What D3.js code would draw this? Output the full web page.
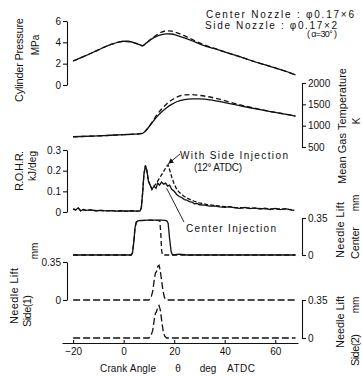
<!DOCTYPE html>
<meta charset="utf-8">
<head>
<script src="https://d3js.org/d3.v7.min.js"></script>
<style>
  body { margin: 0; background: #fff; }
  svg text { font-family: "Liberation Sans", Arial, sans-serif; fill: #111; }
  .axis path, .axis line { stroke: #111; stroke-width: 1.1; }
  .axis text { font-size: 10px; }
  .curve { fill: none; stroke: #111; stroke-width: 1.3; }
</style>
</head>
<body>
<div id="chart"></div>
<script>
// crank angle ticks
var tickAngles = [-20, 0, 20, 40, 60];

// cylinder pressure, MPa
var presAngle  = [-20,-15,-10,-5,-2,0,2,4,6,7.5,9,11,13,15,17,19,21,24,27,30,33,36,40,45,50,55,60,65,68];
var presCenter = [2.25,2.75,3.3,3.8,4.02,4.1,4.08,3.98,3.8,3.68,3.95,4.3,4.55,4.72,4.8,4.78,4.65,4.42,4.15,3.85,3.6,3.4,3.1,2.72,2.32,1.95,1.6,1.22,0.95];
var presSide   = [2.25,2.75,3.3,3.8,4.02,4.1,4.08,3.98,3.8,3.68,3.95,4.33,4.68,4.95,5.08,5.05,4.9,4.62,4.28,3.95,3.66,3.43,3.1,2.72,2.32,1.95,1.6,1.22,0.95];

// mean gas temperature, K
var tempAngle  = [-20,-10,0,4,7.5,9,11,13,15,17,19,21,24,27,30,35,40,45,50,55,60,65,68];
var tempCenter = [740,760,790,800,820,900,1050,1200,1320,1420,1500,1560,1610,1630,1630,1600,1540,1480,1420,1365,1310,1260,1225];
var tempSide   = [740,760,790,800,820,900,1060,1240,1390,1510,1600,1670,1720,1730,1710,1660,1585,1505,1435,1370,1310,1260,1225];

// rate of heat release, kJ/deg
var rohrAngle  = [-20,-19,-18,-17,-16,-15,-13,-11,-9,-7,-5,-3,-1,1,3,5,6.5,7,7.5,8,8.6,9.2,9.8,10.5,11.2,12,12.8,13.5,14.2,15,15.8,16.6,17.4,18.2,19,20,21,22,23,24,25,26,27,28,29,30,32,34,36,38,40,42,44,46,48,50,52,54,56,58,60,62,64,66,67.5];
var rohrCenter = [0.015,0.01,0.02,0.005,0.012,0.008,0.01,0.006,0.008,0.005,0.007,0.004,0.006,0.004,0.006,0.004,0.005,0.02,0.09,0.18,0.225,0.2,0.15,0.13,0.11,0.125,0.115,0.14,0.13,0.145,0.135,0.14,0.125,0.13,0.11,0.1,0.085,0.075,0.07,0.06,0.058,0.05,0.048,0.04,0.042,0.035,0.033,0.028,0.03,0.025,0.022,0.026,0.02,0.018,0.022,0.016,0.02,0.014,0.018,0.012,0.017,0.012,0.016,0.01,0.008];
var rohrSideAngle = [-20,-19,-18,-17,-16,-15,-13,-11,-9,-7,-5,-3,-1,1,3,5,6.5,7,7.5,8,8.6,9.2,9.8,10.5,11.2,12,13,14,15,16,17,17.6,18.3,19,20,21,22,23,24,26,28,30,33,36,40,44,48,52,56,60,64,67.5];
var rohrSide      = [0.015,0.01,0.02,0.005,0.012,0.008,0.01,0.006,0.008,0.005,0.007,0.004,0.006,0.004,0.006,0.004,0.005,0.02,0.09,0.18,0.225,0.2,0.15,0.13,0.11,0.125,0.14,0.16,0.18,0.2,0.22,0.228,0.2,0.17,0.135,0.11,0.095,0.085,0.075,0.062,0.052,0.044,0.036,0.032,0.026,0.022,0.02,0.018,0.016,0.015,0.014,0.01];

// needle lift, mm
var needleCAngle  = [-20,3,3.5,4,4.5,5,5.8,10,15,17,17.6,18.2,18.8,19.4,22,25,68];
var needleCenter  = [0,0,0.02,0.12,0.26,0.31,0.325,0.33,0.33,0.325,0.3,0.15,0.03,0,0.008,0,0];
var needleCSAngle = [-20,3,3.5,4,4.5,5,5.8,10,14.3,14.7,15,15.3,68];
var needleCSide   = [0,0,0.02,0.12,0.26,0.31,0.325,0.33,0.325,0.2,0.05,0,0];
var sideAngle = [-20,10,10.8,11.5,12.2,12.6,13,13.5,14,14.5,15,15.6,16.2,17,68];
var side1Lift = [0,0,0.02,0.08,0.2,0.25,0.26,0.31,0.32,0.27,0.18,0.08,0.02,0,0];
var side2Lift = [0,0,0.02,0.07,0.18,0.23,0.24,0.29,0.3,0.26,0.17,0.07,0.02,0,0];

var svg = d3.select("#chart").append("svg").attr("width", 362).attr("height", 377);

var x = d3.scaleLinear().domain([-24.4, 69]).range([62, 298]);
var yP = d3.scaleLinear().domain([0, 6]).range([85, 21]);
var yT = d3.scaleLinear().domain([500, 2000]).range([147, 83]);
var yR = d3.scaleLinear().domain([0, 0.3]).range([212, 150]);
var yC = d3.scaleLinear().domain([0, 0.35]).range([255, 218]);
var yS1 = d3.scaleLinear().domain([0, 0.35]).range([300, 262]);
var yS2 = d3.scaleLinear().domain([0, 0.35]).range([338, 300]);

function pairs(a, v) { return a.map(function (d, i) { return [d, v[i]]; }); }

function draw(ang, vals, y, dash, curve) {
    var line = d3.line().x(function (d) { return x(d[0]); }).y(function (d) { return y(d[1]); })
        .curve(curve || d3.curveLinear);
    var p = svg.append("path").attr("class", "curve").attr("d", line(pairs(ang, vals)));
    if (dash) p.attr("stroke-dasharray", dash);
    return p;
}

// curves
draw(presAngle, presCenter, yP, null, d3.curveMonotoneX);
draw(presAngle, presSide, yP, "5,3", d3.curveMonotoneX);
draw(tempAngle, tempCenter, yT, null, d3.curveMonotoneX);
draw(tempAngle, tempSide, yT, "5,3", d3.curveMonotoneX);
draw(rohrAngle, rohrCenter, yR).attr("stroke-width", 1);
draw(rohrSideAngle, rohrSide, yR, "4,2").attr("stroke-width", 1);
draw(needleCAngle, needleCenter, yC);
draw(needleCSAngle, needleCSide, yC, "5,3");
draw(sideAngle, side1Lift, yS1, "7,3");
draw(sideAngle, side2Lift, yS2, "7,3");

// axes
function axis(gen, px, vals, fmt) {
    var g = svg.append("g").attr("class", "axis").attr("transform", "translate(" + px + ",0)")
        .call(gen.tickValues(vals).tickFormat(fmt).tickSize(4).tickSizeOuter(0).tickPadding(2));
    g.select(".domain").attr("fill", "none");
    return g;
}
var num = function (d) { return d === 0 ? "0" : String(d); };
axis(d3.axisLeft(yP), 67, [0, 2, 4, 6], num);
axis(d3.axisRight(yT), 302, [500, 1000, 1500, 2000], num);
axis(d3.axisLeft(yR), 67, [0, 0.1, 0.2, 0.3], num);
axis(d3.axisRight(yC), 302, [0, 0.35], num);
axis(d3.axisLeft(yS1), 67, [0, 0.35], num);
axis(d3.axisRight(yS2), 302, [0, 0.35], num);

var xa = svg.append("g").attr("class", "axis").attr("transform", "translate(0,343)")
    .call(d3.axisBottom(x).tickValues(tickAngles).tickSize(-3).tickSizeOuter(0).tickPadding(5));
xa.select(".domain").attr("stroke-width", 1.8);

// labels
function label(txt, cx, cy, size, rot, len) {
    var t = svg.append("text").attr("text-anchor", "middle").attr("dy", "0.35em")
        .attr("font-size", size).text(txt);
    if (rot) t.attr("transform", "translate(" + cx + "," + cy + ") rotate(-90)");
    else t.attr("x", cx).attr("y", cy);
    if (len) t.attr("textLength", len).attr("lengthAdjust", "spacing");
    return t;
}
label("Cylinder Pressure", 19, 60, 11, true, 84);
label("MPa", 35, 45, 10, true);
label("R.O.H.R.", 19, 171, 11, true, 40);
label("kJ/deg", 32, 166, 10, true, 30);
label("Needle Lift", 14, 296, 11, true, 56);
label("Side(1)", 27, 311, 11, true, 32);
label("mm", 34, 251, 10, true);

label("Mean Gas Temperature", 342, 126, 11, true, 116);
label("K", 356, 121, 10, true);
label("Needle Lift", 340, 230, 11, true, 56);
label("Center", 355, 243, 11, true, 32);
label("mm", 355, 203, 10, true);
label("Needle Lift", 340, 322, 11, true, 52);
label("Side(2)", 355, 350, 11, true, 32);
label("mm", 355, 305, 10, true);

label("Center  Nozzle  :  \u03C60.17\u00D76", 280, 14, 10, false, 148);
label("Side  Nozzle  :  \u03C60.17\u00D72", 271, 25, 10, false, 132);
label("( \u03B1=30\u00B0 )", 322, 34, 9, false, 30);

label("With  Side  Injection", 234, 155, 10, false, 108);
label("(12\u00B0  ATDC)", 218, 167, 10, false, 48);
label("Center  Injection", 231, 228, 10, false, 90);

label("Crank  Angle", 128, 368, 10, false, 56);
label("\u03B8", 178, 368, 10, false);
label("deg", 208, 368, 10, false);
label("ATDC", 241, 368, 10, false, 28);

// pointers
svg.append("defs").append("marker").attr("id", "ah").attr("viewBox", "0 0 10 10")
    .attr("refX", 9).attr("refY", 5).attr("markerWidth", 6).attr("markerHeight", 6).attr("orient", "auto")
    .append("path").attr("d", "M0,0L10,5L0,10z").attr("fill", "#111");
svg.append("line").attr("x1", 180).attr("y1", 154).attr("x2", x(17.8)).attr("y2", yR(0.235))
    .attr("stroke", "#111").attr("stroke-width", 0.9).attr("marker-end", "url(#ah)");
svg.append("line").attr("x1", 184).attr("y1", 222).attr("x2", x(17)).attr("y2", yR(0.115))
    .attr("stroke", "#111").attr("stroke-width", 0.9);
</script>
</body>
